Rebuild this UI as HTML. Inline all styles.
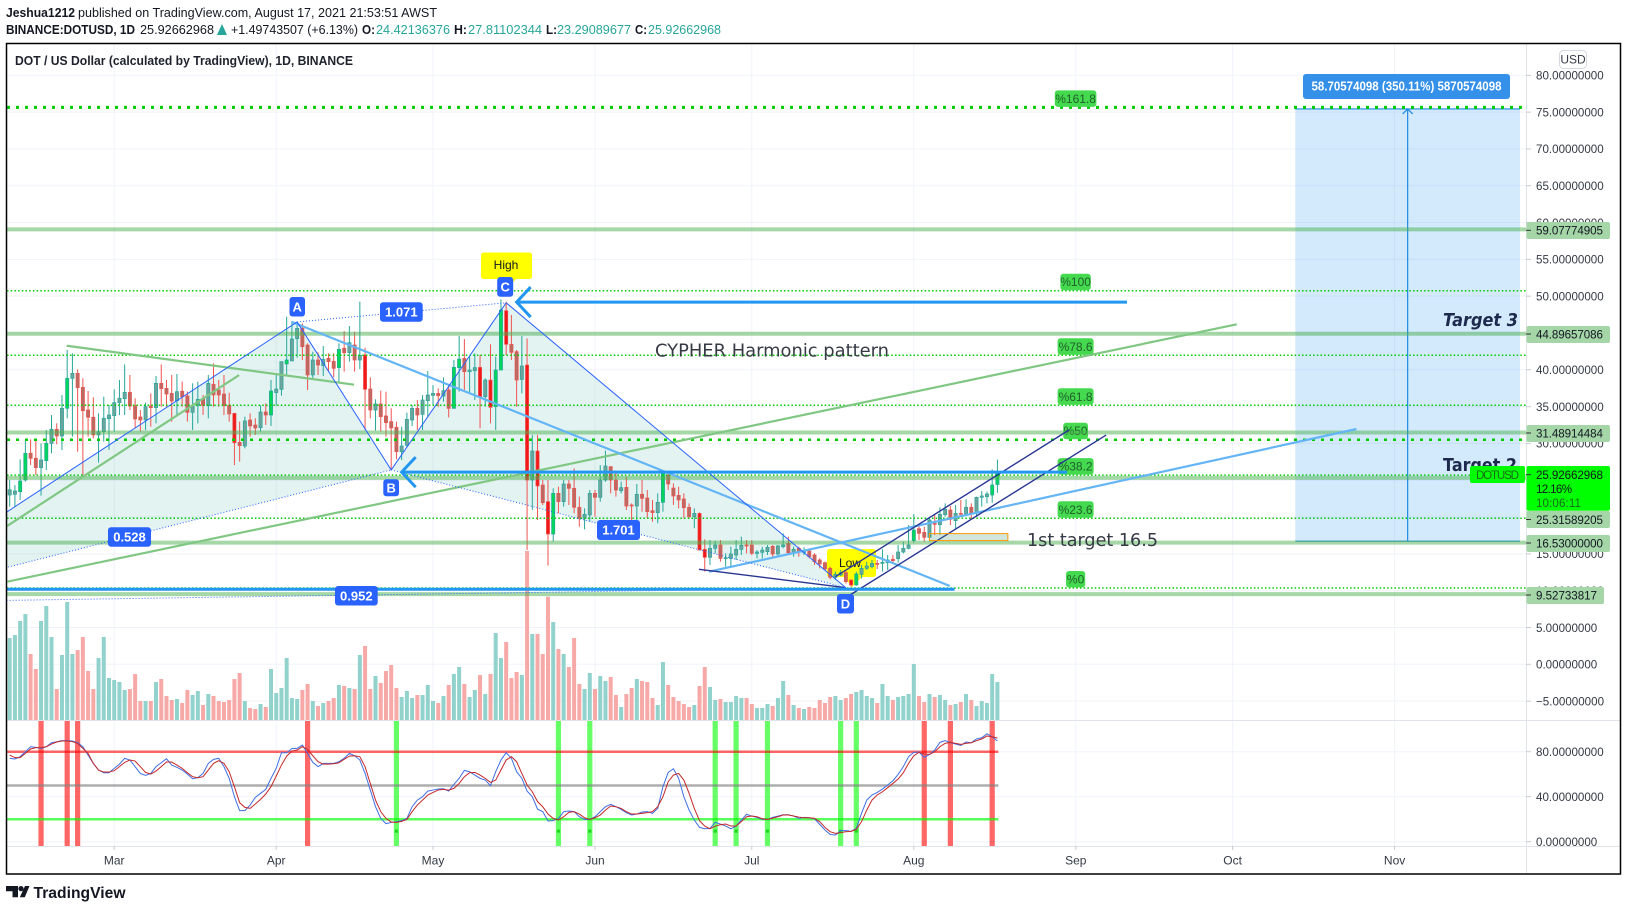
<!DOCTYPE html>
<html lang="en">
<head>
<meta charset="utf-8">
<title>DOT / US Dollar TradingView chart</title>
<style>
html,body{margin:0;padding:0;background:#fff;width:1627px;height:911px;overflow:hidden}
svg{display:block;font-family:"Liberation Sans",sans-serif}
</style>
</head>
<body>
<svg id="chart" xmlns="http://www.w3.org/2000/svg" width="1627" height="911" viewBox="0 0 1627 911">
  <defs>
    <clipPath id="mainClip"><rect x="7" y="44" width="1519" height="676"/></clipPath>
    <clipPath id="stochClip"><rect x="7" y="721" width="1519" height="125"/></clipPath>
    <clipPath id="target2Clip"><rect x="1430" y="450" width="96" height="22"/></clipPath>
  </defs>
  <rect width="1627" height="911" fill="#fff"/>

  <g font-size="13" fill="#131722">
    <text x="6" y="17" font-weight="bold" textLength="69" lengthAdjust="spacingAndGlyphs">Jeshua1212</text>
    <text x="78" y="17" textLength="359" lengthAdjust="spacingAndGlyphs">published on TradingView.com, August 17, 2021 21:53:51 AWST</text>
    <text x="6" y="34" font-weight="bold" textLength="129" lengthAdjust="spacingAndGlyphs">BINANCE:DOTUSD, 1D</text>
    <text x="140" y="34" textLength="74" lengthAdjust="spacingAndGlyphs">25.92662968</text>
    <path d="M217 35 L222 24 L227 35 Z" fill="#26a69a"/>
    <text x="231" y="34" textLength="127" lengthAdjust="spacingAndGlyphs">+1.49743507 (+6.13%)</text>
    <text x="362" y="34" font-weight="bold" textLength="13" lengthAdjust="spacingAndGlyphs">O:</text>
    <text x="376" y="34" fill="#26a69a" textLength="74" lengthAdjust="spacingAndGlyphs">24.42136376</text>
    <text x="454" y="34" font-weight="bold" textLength="13" lengthAdjust="spacingAndGlyphs">H:</text>
    <text x="468" y="34" fill="#26a69a" textLength="74" lengthAdjust="spacingAndGlyphs">27.81102344</text>
    <text x="546" y="34" font-weight="bold" textLength="11" lengthAdjust="spacingAndGlyphs">L:</text>
    <text x="557" y="34" fill="#26a69a" textLength="74" lengthAdjust="spacingAndGlyphs">23.29089677</text>
    <text x="635" y="34" font-weight="bold" textLength="12" lengthAdjust="spacingAndGlyphs">C:</text>
    <text x="648" y="34" fill="#26a69a" textLength="73" lengthAdjust="spacingAndGlyphs">25.92662968</text>
  </g>

  <g id="gridLayer"></g>
  <g id="rangeLayer" clip-path="url(#mainClip)"></g>
  <g id="fillLayer" clip-path="url(#mainClip)"></g>
  <g id="calloutLayer">
    <path d="M830 549 H873 Q876 549 876 552 V574 Q876 577 873 577 H862 L852 587 L844 577 H830 Q827 577 827 574 V552 Q827 549 830 549 Z" fill="#ffff00"/>
    <text x="850" y="567" font-size="12" text-anchor="middle" fill="#131722">Low</text>
  </g>
  <g id="volumeLayer" clip-path="url(#mainClip)"></g>
  <g id="candleLayer" clip-path="url(#mainClip)"></g>
  <g id="fibLayer" clip-path="url(#mainClip)"></g>
  <g id="bandLayer" clip-path="url(#mainClip)"></g>
  <g id="drawLayer" clip-path="url(#mainClip)"></g>
  <g id="stochLayer" clip-path="url(#stochClip)"></g>

  <g font-weight="bold" fill="#fff">
    <path d="M484 252.5 H529 Q532 252.5 532 255.5 V276 Q532 279 529 279 H516 L507 288 L498 279 H484 Q481 279 481 276 V255.5 Q481 252.5 484 252.5 Z" fill="#ffff00"/>
    <text x="506" y="269" font-size="12" font-weight="normal" text-anchor="middle" fill="#131722">High</text>
    <rect x="289.5" y="297" width="15.5" height="19.5" rx="3" fill="#2962ff"/>
    <text x="297.2" y="311.5" font-size="13" text-anchor="middle">A</text>
    <rect x="383.3" y="479.3" width="15.7" height="17" rx="3" fill="#2962ff"/>
    <text x="391.2" y="492.5" font-size="13" text-anchor="middle">B</text>
    <rect x="497.2" y="277" width="16" height="19.7" rx="3" fill="#2962ff"/>
    <text x="505.2" y="291.5" font-size="13" text-anchor="middle">C</text>
    <rect x="837" y="594" width="17" height="19.5" rx="3" fill="#2962ff"/>
    <text x="845.5" y="608.5" font-size="13" text-anchor="middle">D</text>
    <rect x="108" y="527.3" width="43" height="19.4" rx="3" fill="#2962ff"/>
    <text x="129.5" y="541.6" font-size="13" text-anchor="middle">0.528</text>
    <rect x="335" y="586" width="42.7" height="19.5" rx="3" fill="#2962ff"/>
    <text x="356.3" y="600.5" font-size="13" text-anchor="middle">0.952</text>
    <rect x="380" y="302.3" width="42.7" height="19.4" rx="3" fill="#2962ff"/>
    <text x="401.3" y="316.6" font-size="13" text-anchor="middle">1.071</text>
    <rect x="597" y="520" width="43" height="20" rx="3" fill="#2962ff"/>
    <text x="618.5" y="534.6" font-size="13" text-anchor="middle">1.701</text>
  </g>

  <text x="655" y="356.5" font-family="'DejaVu Sans',sans-serif" font-size="18" fill="#363a45" textLength="234" lengthAdjust="spacingAndGlyphs">CYPHER Harmonic pattern</text>
  <text x="1027" y="546" font-family="'DejaVu Sans',sans-serif" font-size="18" fill="#363a45" textLength="131" lengthAdjust="spacingAndGlyphs">1st target 16.5</text>
  <text x="1443" y="326" font-family="'DejaVu Sans',sans-serif" font-size="18" font-style="italic" font-weight="bold" fill="#1d2a4d" textLength="75" lengthAdjust="spacingAndGlyphs">Target 3</text>
  <text x="1443" y="471" clip-path="url(#target2Clip)" font-family="'DejaVu Sans',sans-serif" font-size="18" font-weight="bold" fill="#1d2a4d" textLength="74" lengthAdjust="spacingAndGlyphs">Target 2</text>

  <rect x="1303" y="74" width="207" height="25" rx="3" fill="#3490e8"/>
  <text x="1406.5" y="90.5" font-size="12.5" font-weight="bold" fill="#fff" text-anchor="middle" textLength="190" lengthAdjust="spacingAndGlyphs">58.70574098 (350.11%) 5870574098</text>

  <g id="axisLayer" fill="#333a45"></g>

  <text x="15" y="65" font-size="13" font-weight="bold" fill="#1e222d" textLength="338" lengthAdjust="spacingAndGlyphs">DOT / US Dollar (calculated by TradingView), 1D, BINANCE</text>

  <g font-size="11.6" fill="#131722">
    <rect x="1526.5" y="222" width="83.5" height="17" rx="2" fill="#a5d6a7"/>
    <path d="M1526 230.3h5" stroke="#333" fill="none"/>
    <text x="1536" y="234.7" textLength="67">59.07774905</text>
    <rect x="1526.5" y="326" width="83.5" height="17" rx="2" fill="#a5d6a7"/>
    <path d="M1526 334h5" stroke="#333" fill="none"/>
    <text x="1536" y="338.5" textLength="67">44.89657086</text>
    <rect x="1526.5" y="425" width="83.5" height="17" rx="2" fill="#a5d6a7"/>
    <path d="M1526 433h5" stroke="#333" fill="none"/>
    <text x="1536" y="437.5" textLength="67">31.48914484</text>
    <rect x="1526.5" y="511" width="83.5" height="17" rx="2" fill="#a5d6a7"/>
    <path d="M1526 519.5h5" stroke="#333" fill="none"/>
    <text x="1536" y="523.8" textLength="67">25.31589205</text>
    <rect x="1526.5" y="535" width="83.5" height="17" rx="2" fill="#a5d6a7"/>
    <path d="M1526 543h5" stroke="#333" fill="none"/>
    <text x="1536" y="547.6" textLength="67">16.53000000</text>
    <rect x="1526.5" y="587" width="77.5" height="17" rx="2" fill="#a5d6a7"/>
    <path d="M1526 595h5" stroke="#333" fill="none"/>
    <text x="1536" y="599.6" textLength="61">9.52733817</text>
    <rect x="1526.5" y="466" width="83.5" height="44.8" rx="2" fill="#00ff00"/>
    <path d="M1526 474.7h5" stroke="#333" fill="none"/>
    <text x="1536" y="479" textLength="67">25.92662968</text>
    <text x="1536" y="493" textLength="36">12.16%</text>
    <text x="1536" y="507" textLength="45" fill="#1a6b1a">10:06:11</text>
    <rect x="1470" y="466" width="55" height="17" rx="2" fill="#00ff00"/>
    <text x="1476" y="479" textLength="43" fill="#1a6b1a">DOTUSD</text>
  </g>

  <rect x="1559.5" y="50.5" width="27" height="18" rx="4" fill="#fff" stroke="#d6d8e0"/>
  <text x="1573" y="63.5" font-size="12" fill="#333a45" text-anchor="middle">USD</text>

  <rect x="6.5" y="43.5" width="1614" height="830.5" fill="none" stroke="#000" stroke-width="1.5"/>

  <g>
    <path d="M6 886h12v11.3h-5.5v-6H6z M25 886h4.5l-4.7 11.3h-5z" fill="#131722"/>
    <circle cx="21" cy="888.6" r="2.6" fill="#131722"/>
    <text x="33.5" y="898" font-size="16" font-weight="bold" fill="#131722" textLength="92" lengthAdjust="spacingAndGlyphs">TradingView</text>
  </g>
</svg>

<script>
// ---- OHLC (USD), one entry per daily bar, first bar Feb 9 2021 ----
const opens = [23.0,23.09,23.45,25.03,28.66,27.98,26.71,27.66,30.01,31.92,
31.01,34.77,38.84,39.52,37.62,34.54,33.55,31.15,31.6,33.36,
33.77,35.54,36.08,36.94,35.13,33.59,33.18,35.08,34.86,38.16,
37.48,36.8,35.81,37.08,36.44,34.22,35.17,36.08,35.13,38.03,
37.26,36.71,35.17,34.09,30.15,29.65,33.18,32.5,32.14,34.27,
33.86,36.9,37.35,40.79,41.2,44.23,45.63,43.37,39.3,41.33,
40.56,41.56,41.15,40.29,42.92,42.33,43.37,41.33,42.01,37.39,
34.54,35.36,33.73,32.96,32.19,28.88,29.74,33.18,34.76,33.95,
35.81,36.53,36.8,36.44,37.25,34.76,40.29,41.55,39.74,39.88,
40.33,36.35,38.61,35.0,39.97,48.03,43.46,42.46,38.7,40.65,
25.03,28.97,24.35,22.09,17.7,23.22,22.09,24.49,23.9,21.32,
19.83,20.28,23.22,22.68,25.03,26.84,25.03,23.58,24.03,21.64,
21.5,23.09,22.59,20.87,20.6,22.0,25.71,23.94,22.95,22.45,
21.32,20.05,20.5,15.61,14.53,15.75,16.2,14.35,14.39,14.84,
15.61,16.2,16.2,15.07,15.21,15.3,16.02,14.98,15.98,16.43,
15.07,15.75,15.21,15.39,14.85,14.17,13.8,13.03,11.81,12.13,
12.45,11.45,10.77,12.22,13.03,13.26,13.71,13.71,13.8,14.26,
14.35,15.25,15.75,16.79,18.42,17.92,17.24,19.15,18.97,20.32,
20.96,19.51,20.5,20.41,21.32,20.5,22.68,22.77,22.99,24.42];
const highs = [25.03,24.35,27.84,30.47,30.56,30.56,30.01,31.82,33.86,32.73,
36.58,42.69,42.24,40.06,38.84,37.12,36.26,34.09,36.35,35.22,
37.35,38.62,40.74,39.3,36.13,34.54,35.54,36.8,39.16,40.74,
38.62,39.3,39.43,38.39,37.03,38.16,38.39,36.58,39.3,40.88,
38.62,39.3,36.89,34.09,32.96,33.64,34.09,33.41,35.17,35.45,
38.62,39.3,41.11,47.22,46.54,46.54,46.31,43.6,42.46,42.37,
43.23,42.24,42.24,43.6,45.27,45.95,45.18,49.25,43.01,38.98,
35.99,37.17,37.03,34.77,32.96,32.27,34.18,35.22,35.9,36.58,
39.83,37.93,37.48,38.97,37.93,41.33,44.59,44.18,41.78,42.23,
42.01,38.84,43.46,41.78,49.57,49.25,47.44,42.69,44.59,44.27,
31.14,31.14,25.03,25.03,23.9,24.13,25.03,25.03,26.62,22.77,
21.18,23.67,23.67,27.07,29.02,26.93,26.3,24.8,25.48,21.86,
24.49,25.03,23.67,22.32,23.22,25.94,26.3,24.58,24.13,23.22,
21.86,21.18,20.64,16.97,16.88,16.79,16.88,15.07,15.98,16.88,
17.34,16.88,16.88,15.52,15.98,16.2,16.2,16.2,17.79,17.34,
15.98,15.98,15.89,15.75,15.07,14.39,13.94,13.26,12.58,12.81,
12.81,11.54,12.58,13.49,13.94,14.17,14.17,15.62,14.85,14.85,
16.2,16.66,18.92,20.41,18.78,18.69,19.83,20.41,21.32,21.86,
21.5,21.64,22.32,22.41,21.86,22.77,23.54,23.45,26.48,27.81];
const lows = [21.41,21.41,22.32,24.81,27.07,25.71,22.91,26.39,28.66,29.88,
29.11,33.41,30.92,28.88,25.71,30.92,30.69,27.39,30.24,29.11,
31.6,33.86,33.86,34.54,32.05,31.6,31.82,32.28,32.73,34.99,
34.99,32.96,33.64,34.99,32.96,31.82,32.73,33.86,33.41,34.99,
34.99,33.86,32.96,27.07,27.52,29.33,30.92,31.15,31.6,32.5,
32.37,35.13,36.49,39.3,41.2,41.65,41.33,37.26,38.84,39.3,
39.16,39.75,38.98,38.39,39.75,41.11,39.75,40.11,31.82,33.41,
31.73,31.6,30.92,26.39,27.84,27.75,29.56,32.37,31.82,31.82,
33.63,35.22,34.99,35.67,33.54,34.76,37.03,37.25,36.8,35.9,
32.05,34.99,32.73,31.82,39.97,42.01,41.33,34.99,36.8,15.52,
20.96,19.6,21.64,13.4,16.66,20.5,21.41,21.64,20.5,18.69,
18.33,19.37,20.05,22.09,24.8,23.22,22.77,23.22,20.96,19.6,
19.6,20.73,19.83,19.37,19.15,20.73,23.67,21.64,21.18,19.83,
19.83,18.47,15.52,12.58,13.49,15.07,13.94,13.26,13.35,14.17,
14.84,15.07,14.84,14.39,14.39,14.84,14.39,14.62,15.75,14.84,
14.62,14.62,14.85,14.39,13.49,13.03,12.81,11.54,11.45,11.99,
11.0,10.54,10.68,11.68,12.81,13.03,12.94,12.58,12.81,13.71,
13.8,15.07,15.62,16.52,16.88,16.66,16.66,17.56,17.56,20.05,
18.92,18.47,20.05,20.28,19.6,20.05,21.41,21.86,21.95,23.29];
const closes = [23.7,23.54,24.9,28.66,27.98,26.71,27.75,30.01,31.92,31.01,
34.77,38.84,39.52,37.57,34.45,33.55,31.15,31.6,33.41,33.86,
35.54,36.13,36.94,35.08,33.32,33.18,34.99,34.86,38.16,37.44,
36.71,35.76,37.03,36.35,34.22,35.08,35.99,35.17,38.16,36.58,
36.58,35.13,34.0,30.1,29.7,33.05,32.37,32.1,34.27,33.86,
37.12,37.39,41.11,41.33,44.18,45.63,43.14,39.3,41.33,40.65,
41.42,41.11,40.2,42.78,42.33,43.69,41.33,41.97,37.35,34.54,
35.36,33.64,32.82,32.1,28.88,29.65,33.27,34.76,33.86,35.9,
36.58,36.8,36.48,37.16,34.76,40.33,41.46,39.74,39.97,40.29,
36.35,38.61,34.9,39.97,48.12,43.46,42.37,38.61,40.51,25.03,
28.97,24.22,21.95,17.7,23.22,22.09,24.49,23.9,21.32,19.83,
20.37,23.22,22.68,25.03,26.93,25.03,23.67,23.99,21.5,21.5,
23.09,22.54,20.73,20.6,22.0,25.94,24.49,22.86,22.32,21.27,
20.05,20.5,15.52,14.53,15.75,16.2,14.39,14.48,14.98,15.61,
16.16,16.11,15.07,15.25,15.52,15.89,14.98,16.07,16.2,15.16,
15.62,15.3,15.34,14.62,13.94,13.62,12.94,11.81,12.22,12.45,
11.22,10.77,12.27,13.03,13.35,13.71,13.62,13.85,14.17,14.08,
15.25,15.75,16.2,18.24,17.79,17.24,19.6,19.01,20.37,21.05,
19.69,20.5,20.37,21.32,20.5,22.68,22.86,23.13,24.35,25.93];
const brightCandles = [2,3,7,11,43,50,53,63,68,85,86,90,92,93,94,95,99,101,103,104,125,132,133,161,162,173,188,189];

// ---- Volume (arbitrary units) ----
const volumes = [246,255,297,318,198,153,297,342,249,93,
195,354,198,210,249,147,93,186,249,126,
120,114,90,93,138,57,57,57,114,123,
72,60,63,51,90,75,87,45,78,72,
57,54,60,123,141,57,36,33,48,39,
153,81,96,186,66,63,90,108,57,42,
51,57,66,105,102,96,93,195,222,93,
132,111,147,165,96,69,87,66,75,75,
105,57,51,72,105,138,159,108,69,90,
135,78,138,261,186,
234,126,144,135,507,258,258,198,370,294,
213,198,159,246,108,93,141,93,132,117,
129,75,39,78,96,123,117,114,66,45,
174,105,69,57,48,39,45,102,159,99,
60,63,54,54,72,66,66,48,36,36,
48,42,66,117,75,45,36,33,39,36,
60,51,69,72,60,66,78,84,90,72,
66,51,108,72,60,69,72,78,168,72,
54,78,69,75,60,45,48,54,78,60,
42,57,51,138,114];

// ---- Stochastic oscillator ----
const stochK = [74.1,73.5,75.6,80.0,84.4,83.8,83.0,84.4,88.0,88.9,
89.8,89.8,89.5,88.0,84.4,77.0,69.6,63.7,61.3,61.3,
65.2,69.0,74.1,72.6,66.7,60.7,59.0,60.7,66.7,70.2,
73.8,68.1,66.1,63.7,60.1,56.0,56.9,60.7,69.6,73.2,
74.1,66.7,56.3,40.0,27.6,27.6,32.6,39.4,43.0,46.5,
56.3,65.2,79.1,79.1,82.7,83.0,85.9,78.5,70.5,66.7,
69.6,69.6,69.6,71.1,74.1,78.5,76.4,72.6,60.7,45.9,
31.1,20.7,16.0,17.2,17.8,18.7,20.7,31.1,37.0,40.0,
45.0,45.9,46.8,47.1,45.0,51.0,56.3,63.4,62.2,59.2,
56.3,54.8,49.8,62.2,72.6,79.1,74.1,62.2,56.3,45.0,
40.0,29.0,26.7,18.4,18.7,20.7,26.7,27.3,26.7,22.2,
19.8,19.8,22.2,26.7,31.1,33.2,31.1,28.7,25.8,23.7,
24.6,26.4,26.7,25.2,29.6,48.9,61.6,64.9,56.3,40.0,
28.1,19.3,12.7,11.5,11.8,17.2,15.7,13.9,11.5,13.9,
19.3,24.3,22.8,21.6,19.8,19.8,21.6,22.8,24.0,24.0,
22.8,20.7,21.6,21.3,20.4,15.4,10.4,6.5,5.9,9.8,
9.8,9.2,11.8,25.2,37.0,41.5,43.8,46.8,50.4,54.2,
59.8,66.7,75.6,79.4,79.7,75.0,77.6,81.5,88.3,89.8,
88.0,86.8,85.6,88.6,88.0,91.3,92.4,96.0,93.3,89.5];
const stochD = [77.0,74.7,74.7,78.5,82.4,83.6,83.6,84.4,86.8,88.6,
89.5,89.5,88.9,87.4,83.0,78.5,69.6,63.7,61.9,61.9,
63.1,66.7,70.5,72.6,71.7,66.7,61.6,60.1,62.8,66.7,
70.8,70.8,68.1,65.2,61.3,57.8,56.9,57.8,63.7,69.6,
72.0,69.6,62.2,48.9,34.7,30.5,29.6,33.5,37.6,42.4,
48.9,58.4,68.1,76.1,80.6,81.5,84.4,82.1,76.4,71.1,
69.0,69.0,69.3,70.2,73.2,76.1,76.4,75.6,66.7,51.8,
37.0,26.7,20.7,17.5,17.2,18.1,19.8,26.7,32.6,37.0,
41.5,43.8,45.9,46.5,45.9,47.4,51.8,57.8,61.3,61.6,
59.2,56.3,52.7,54.8,63.7,72.6,75.6,71.1,60.7,50.4,
44.4,35.6,31.1,24.6,20.7,19.3,22.2,26.1,26.7,24.6,
21.3,19.8,21.3,23.7,28.1,31.7,31.1,29.6,26.7,24.6,
24.6,25.2,25.8,26.7,31.1,40.0,53.3,59.2,60.7,54.8,
43.0,29.6,18.7,13.9,11.5,13.9,15.1,15.7,13.9,13.9,
17.8,22.2,22.8,22.2,20.4,19.8,21.0,22.2,23.7,23.7,
22.8,21.9,21.3,21.3,20.7,17.8,12.7,8.9,7.4,8.0,
8.9,9.2,11.0,17.8,28.1,37.0,41.5,44.4,48.0,51.8,
55.7,61.3,69.6,76.4,79.4,77.9,77.6,80.0,84.4,87.4,
88.3,87.4,86.5,87.4,88.0,89.8,91.3,94.0,93.3,92.1];
const sellSignals = [6,11,13,57,175,180,188];
const buySignals = [74,105,111,135,139,145,159,162];
const stochBands = [80,50,20];

// ---- Axes ----
const priceTicks = [80,75,70,65,60,55,50,45,40,35,30,25,20,15,10,5,0,-5];
const stochTicks = [80,40,0];
const monthLabels = ['Mar','Apr','May','Jun','Jul','Aug','Sep','Oct','Nov'];
const monthBars = [20,51,81,112,142,173,204,234,265];

// ---- Horizontal levels ----
const levelPrices = [59.07774905,44.89657086,31.48914484,25.31589205,16.53,9.52733817];
const fibNames = ['%161.8','%100','%78.6','%61.8','%50','%38.2','%23.6','%0'];
const fibPrices = [75.65,50.74,41.97,35.18,30.5,25.7,19.83,10.36];
const fibHeavy = [true,false,false,false,true,false,false,false];

// ---- Harmonic pattern, [bar, price] ----
const pointX = [-27,8.4];
const pointA = [55,46.5];
const pointB = [73,26.4];
const pointC = [95,49.1];
const pointD = [160,10.4];

// ---- Trend lines, [bar, price] pairs ----
const blueLine1 = [[53.9,46.53],[179.9,10.63]];
const blueLine2 = [[133.8,12.58],[257.7,31.96]];
const greenLine1 = [[10.9,43.27],[65.9,37.98]];
const greenLine2 = [[-0.5,18.78],[43.9,39.29]];
const greenLine3 = [[-0.5,11.22],[234.8,46.18]];
const navyLine1 = [[131.9,12.9],[160,10.4]];
const navyLine2 = [[158,11.9],[202.7,31.82]];
const navyLine3 = [[160.8,9.41],[209.8,31.14]];
const arrowC = [[97,49.2],[213.8,49.2]];
const arrowB = [[75,26.1],[202.3,26.1]];
const lineD = [[-1,10.2],[180.8,10.2]];
const measureBars = [246,289];
const measurePrices = [16.72,75.43];
const orangeBars = [176,191];
const orangePrices = [16.8,17.75];

// ---- Scales ----
const xBar = i => 9.7 + 5.226 * i;
const yPrice = p => 664.3 - 7.3625 * p;
const yVol = v => 720 - v / 3;
const yStoch = v => 841.7 - 1.125 * v;

const NS = 'http://www.w3.org/2000/svg';
function mk(tag, attrs, parent) {
  const el = document.createElementNS(NS, tag);
  for (const k in attrs) el.setAttribute(k, attrs[k]);
  parent.appendChild(el);
  return el;
}
const grid = document.getElementById('gridLayer');
const rangeL = document.getElementById('rangeLayer');
const fillL = document.getElementById('fillLayer');
const volL = document.getElementById('volumeLayer');
const candL = document.getElementById('candleLayer');
const fibL = document.getElementById('fibLayer');
const bandL = document.getElementById('bandLayer');
const drawL = document.getElementById('drawLayer');
const stochL = document.getElementById('stochLayer');
const axisL = document.getElementById('axisLayer');

// grid
priceTicks.forEach(p => {
  const el = mk('line', {x1:7, x2:1526, y1:yPrice(p), y2:yPrice(p), stroke:'#f0f3fa'}, grid);
  
  
});
stochTicks.forEach(v => {
  const el = mk('line', {x1:7, x2:1526, y1:yStoch(v), y2:yStoch(v), stroke:'#f0f3fa'}, grid);
  
  
});
monthBars.forEach(i => {
  const el = mk('line', {x1:xBar(i), x2:xBar(i), y1:44, y2:846, stroke:'#f0f3fa'}, grid);
  
  
});

// measure box
{
  const x0 = xBar(measureBars[0]), x1 = xBar(measureBars[1]);
  const yb = yPrice(measurePrices[0]), yt = yPrice(measurePrices[1]);
  const xm = (x0 + x1) / 2;
  const box = mk('rect', {x:x0, y:yt, width:x1-x0, height:yb-yt, fill:'rgba(33,150,243,0.2)'}, rangeL);
  
  
  const edge = mk('path', {d:`M${x0} ${yt}H${x1}M${x0} ${yb}H${x1}`, stroke:'#1e88e5', 'stroke-width':1.2, fill:'none'}, rangeL);
  
  
  const arrow = mk('path', {d:`M${xm} ${yb}V${yt}M${xm-5} ${yt+5}L${xm} ${yt}L${xm+5} ${yt+5}`, stroke:'#1e88e5', 'stroke-width':1.2, fill:'none'}, rangeL);
  
  
}

// harmonic fill
{
  const pt = a => xBar(a[0]) + ',' + yPrice(a[1]);
  const t1 = mk('polygon', {points:[pointX,pointA,pointB].map(pt).join(' '), fill:'rgba(38,166,154,0.13)'}, fillL);
  
  
  const t2 = mk('polygon', {points:[pointB,pointC,pointD].map(pt).join(' '), fill:'rgba(38,166,154,0.13)'}, fillL);
  
  
}

// volume
volumes.forEach((v, i) => {
  const up = closes[i] >= opens[i];
  const el = mk('rect', {x:xBar(i)-2, y:yVol(v), width:4, height:720-yVol(v), fill: up ? '#92d2cc' : '#f7a9a7'}, volL);
  
  
});

// candles
opens.forEach((o, i) => {
  const c = closes[i], up = c >= o, x = xBar(i), bright = brightCandles.includes(i);
  const wick = mk('line', {x1:x, x2:x, y1:yPrice(highs[i]), y2:yPrice(lows[i]), stroke: up ? '#26a69a' : '#ef5350'}, candL);
  
  
  const top = yPrice(Math.max(o, c)), bot = yPrice(Math.min(o, c));
  const fill = bright ? (up ? '#00d65c' : '#f01818') : (up ? '#6fa39c' : '#b96a62');
  const body = mk('rect', {x:x-1.6, y:top, width:3.2, height:Math.max(bot-top, 1), fill:fill, stroke: up ? '#26a69a' : '#ef5350', 'stroke-width':0.7}, candL);
  
  
});

// fib levels
fibPrices.forEach((p, i) => {
  const y = yPrice(p), heavy = fibHeavy[i];
  const ln = mk('line', {x1:7, x2: i === 0 ? 1522 : 1526, y1:y, y2:y, stroke:'#00cc00', 'stroke-width': i === 0 ? 3 : (heavy ? 2.5 : 1.5), 'stroke-dasharray': heavy ? '3 6' : '1.5 2.2'}, fibL);
  
  
  const w = 5.6 * fibNames[i].length + 8;
  const bx = mk('rect', {x:1075.6-w/2, y:y-17, width:w, height:16.5, rx:3, fill:'#44d94e'}, fibL);
  
  
  const tx = mk('text', {x:1075.6, y:y-4.5, 'font-size':12, 'text-anchor':'middle', fill:'#1f5f2a'}, fibL);
  
  
  tx.textContent = fibNames[i];
});

// support / resistance bands
levelPrices.forEach(p => {
  const el = mk('line', {x1:7, x2:1526, y1:yPrice(p), y2:yPrice(p), stroke:'rgba(76,175,80,0.5)', 'stroke-width':4}, bandL);
  
  
});

// drawings
function seg(a, b, stroke, width, dash) {
  const at = {x1:xBar(a[0]), y1:yPrice(a[1]), x2:xBar(b[0]), y2:yPrice(b[1]), stroke:stroke, 'stroke-width':width};
  if (dash) at['stroke-dasharray'] = dash;
  return mk('line', at, drawL);
}
let s;
s = seg(greenLine1[0], greenLine1[1], '#81c784', 2.2);


s = seg(greenLine2[0], greenLine2[1], '#81c784', 2.2);


s = seg(greenLine3[0], greenLine3[1], '#81c784', 2.2);


s = seg(blueLine1[0], blueLine1[1], '#64b5f6', 2.2);


s = seg(blueLine2[0], blueLine2[1], '#64b5f6', 2.2);


s = seg(navyLine1[0], navyLine1[1], '#283593', 1.4);


s = seg(navyLine2[0], navyLine2[1], '#283593', 1.4);


s = seg(navyLine3[0], navyLine3[1], '#283593', 1.4);


s = seg(pointX, pointA, '#2962ff', 1);


s = seg(pointA, pointB, '#2962ff', 1);


s = seg(pointB, pointC, '#2962ff', 1);


s = seg(pointC, pointD, '#2962ff', 1);


s = seg(pointX, pointB, '#2962ff', 1, '1 2');


s = seg(pointA, pointC, '#2962ff', 1, '1 2');


s = seg(pointB, pointD, '#2962ff', 1, '1 2');


s = seg(pointX, pointD, '#2962ff', 1, '1 2');


s = seg(lineD[0], lineD[1], '#2196f3', 3);


s = seg(arrowC[0], arrowC[1], '#2196f3', 3);


s = seg(arrowB[0], arrowB[1], '#2196f3', 3);


{
  const hc = mk('path', {d:`M${xBar(arrowC[0][0])+14} ${yPrice(arrowC[0][1])-15}L${xBar(arrowC[0][0])} ${yPrice(arrowC[0][1])}L${xBar(arrowC[0][0])+14} ${yPrice(arrowC[0][1])+15}`, fill:'none', stroke:'#2196f3', 'stroke-width':3}, drawL);
  
  
  const hb = mk('path', {d:`M${xBar(arrowB[0][0])+14} ${yPrice(arrowB[0][1])-15}L${xBar(arrowB[0][0])} ${yPrice(arrowB[0][1])}L${xBar(arrowB[0][0])+14} ${yPrice(arrowB[0][1])+15}`, fill:'none', stroke:'#2196f3', 'stroke-width':3}, drawL);
  
  
  const or = mk('rect', {x:xBar(orangeBars[0]), y:yPrice(orangePrices[1]), width:xBar(orangeBars[1])-xBar(orangeBars[0]), height:yPrice(orangePrices[0])-yPrice(orangePrices[1]), fill:'rgba(76,150,120,0.25)', stroke:'#ff9800', 'stroke-width':1}, drawL);
  
  
}

// stochastic pane
sellSignals.forEach(i => {
  const el = mk('rect', {x:xBar(i)-2.6, y:721, width:5.2, height:125, fill:'rgba(255,0,0,0.6)'}, stochL);
  
  
});
buySignals.forEach(i => {
  const el = mk('rect', {x:xBar(i)-2.6, y:721, width:5.2, height:125, fill:'rgba(0,255,0,0.6)'}, stochL);
  
  
  const m = mk('rect', {x:xBar(i)-1.6, y:829.5, width:3.2, height:3.2, fill:'rgba(0,200,0,0.7)'}, stochL);
  
  
});
const bandColors = ['rgba(255,0,0,0.6)','rgba(130,130,130,0.65)','rgba(0,255,0,0.65)'];
stochBands.forEach((v, k) => {
  const el = mk('line', {x1:7, x2:xBar(189)+1, y1:yStoch(v), y2:yStoch(v), stroke:bandColors[k], 'stroke-width':2.5}, stochL);
  
  
});
{
  const path = arr => arr.map((v, i) => (i ? 'L' : 'M') + xBar(i).toFixed(2) + ' ' + yStoch(v).toFixed(2)).join('');
  const k = mk('path', {d:path(stochK), fill:'none', stroke:'#3f6fe6', 'stroke-width':1}, stochL);
  
  
  const d = mk('path', {d:path(stochD), fill:'none', stroke:'#c62828', 'stroke-width':1}, stochL);
  
  
}

// axes
{
  const ax = mk('path', {d:'M1526.5 44V874M7 720.5H1620M7 846.5H1620', stroke:'#e0e3eb', fill:'none'}, axisL);
  
  
}
priceTicks.forEach(p => {
  const y = yPrice(p);
  const t = mk('line', {x1:1526, x2:1531, y1:y, y2:y, stroke:'#c8cbd3'}, axisL);
  
  
  const tx = mk('text', {x:1536, y:y+4.3, 'font-size':11.6}, axisL);
  
  
  tx.textContent = (p < 0 ? '\u2212' + (-p).toFixed(8) : p.toFixed(8));
});
stochTicks.forEach(v => {
  const y = yStoch(v);
  const t = mk('line', {x1:1526, x2:1531, y1:y, y2:y, stroke:'#c8cbd3'}, axisL);
  
  
  const tx = mk('text', {x:1536, y:y+4.3, 'font-size':11.6}, axisL);
  
  
  tx.textContent = v.toFixed(8);
});
monthLabels.forEach((m, k) => {
  const x = xBar(monthBars[k]);
  const t = mk('line', {x1:x, x2:x, y1:846, y2:850, stroke:'#c8cbd3'}, axisL);
  
  
  const tx = mk('text', {x:x, y:864.5, 'font-size':12, 'text-anchor':'middle'}, axisL);
  
  
  tx.textContent = m;
});
</script>
</body>
</html>
